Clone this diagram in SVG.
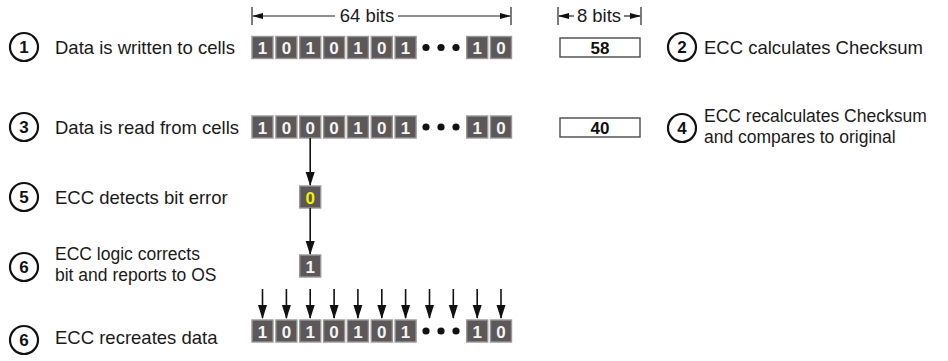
<svg xmlns="http://www.w3.org/2000/svg" width="948" height="361" viewBox="0 0 948 361">
<style>
.lbl{font-family:"Liberation Sans",Arial,sans-serif;font-size:18.5px;fill:#1a1a1a}
.lbl2{font-family:"Liberation Sans",Arial,sans-serif;font-size:17.5px;fill:#1a1a1a}
.num{font-family:"Liberation Sans",Arial,sans-serif;font-size:17px;font-weight:bold;fill:#111;text-anchor:middle}
.cell rect{fill:#5c5758;stroke:#9a9696;stroke-width:1.4}
.cell text{font-family:"Liberation Sans",Arial,sans-serif;font-size:17px;font-weight:bold;fill:#f4f4f4;text-anchor:middle}
.circ{fill:#fff;stroke:#111;stroke-width:2.2}
.box{fill:#fff;stroke:#555;stroke-width:1.5}
.ln{stroke:#111;stroke-width:1.6;fill:none}
.dim{stroke:#222;stroke-width:1.2;fill:none}
.dot{fill:#111}
</style>
<defs>
<marker id="ah" markerWidth="11" markerHeight="8" refX="10" refY="4" orient="auto" markerUnits="userSpaceOnUse">
<path d="M0,1 L11,4 L0,7 Z" fill="#111"/>
</marker>
<marker id="av" markerWidth="14" markerHeight="10" refX="13" refY="5" orient="auto" markerUnits="userSpaceOnUse">
<path d="M0,0.5 L14,5 L0,9.5 Z" fill="#111"/>
</marker>
</defs>

<!-- dimension 64 bits -->
<g id="dim64">
<line class="dim" x1="252" y1="7" x2="252" y2="25"/>
<line class="dim" x1="511" y1="7" x2="511" y2="25"/>
<line class="dim" x1="335" y1="16" x2="253" y2="16" marker-end="url(#ah)"/>
<line class="dim" x1="398" y1="16" x2="510" y2="16" marker-end="url(#ah)"/>
<text class="lbl" x="367" y="22" text-anchor="middle">64 bits</text>
</g>
<!-- dimension 8 bits -->
<g id="dim8">
<line class="dim" x1="558" y1="7" x2="558" y2="25"/>
<line class="dim" x1="641" y1="7" x2="641" y2="25"/>
<line class="dim" x1="574" y1="16" x2="559" y2="16" marker-end="url(#ah)"/>
<line class="dim" x1="624" y1="16" x2="640" y2="16" marker-end="url(#ah)"/>
<text class="lbl" x="599" y="22" text-anchor="middle">8 bits</text>
</g>

<!-- step 1 -->
<g id="step1">
<circle class="circ" cx="24" cy="47" r="14"/>
<text class="num" x="24" y="53">1</text>
<text class="lbl" x="55" y="54">Data is written to cells</text>
</g>
<g id="row1" class="cell" transform="translate(0,36.5)">
<rect x="252" y="0" width="21" height="22"/><text x="262.5" y="17.5">1</text>
<rect x="275.9" y="0" width="21" height="22"/><text x="286.4" y="17.5">0</text>
<rect x="299.7" y="0" width="21" height="22"/><text x="310.2" y="17.5">1</text>
<rect x="323.6" y="0" width="21" height="22"/><text x="334.1" y="17.5">0</text>
<rect x="347.4" y="0" width="21" height="22"/><text x="357.9" y="17.5">1</text>
<rect x="371.3" y="0" width="21" height="22"/><text x="381.8" y="17.5">0</text>
<rect x="395.1" y="0" width="21" height="22"/><text x="405.6" y="17.5">1</text>
<rect x="466.7" y="0" width="21" height="22"/><text x="477.2" y="17.5">1</text>
<rect x="490.5" y="0" width="21" height="22"/><text x="501" y="17.5">0</text>
</g>
<g id="dots1"><circle class="dot" cx="426" cy="47.5" r="3.6"/><circle class="dot" cx="441" cy="47.5" r="3.6"/><circle class="dot" cx="456" cy="47.5" r="3.6"/></g>

<!-- step 2 -->
<g id="checksum1">
<rect class="box" x="560" y="38" width="80" height="19"/>
<text class="num" x="600" y="54">58</text>
</g>
<g id="step2">
<circle class="circ" cx="682" cy="47" r="14"/>
<text class="num" x="682" y="53">2</text>
<text class="lbl" x="704" y="54">ECC calculates Checksum</text>
</g>

<!-- step 3 -->
<g id="step3">
<circle class="circ" cx="24" cy="127" r="14"/>
<text class="num" x="24" y="133">3</text>
<text class="lbl" x="55" y="134">Data is read from cells</text>
</g>
<g id="row3" class="cell" transform="translate(0,116)">
<rect x="252" y="0" width="21" height="22"/><text x="262.5" y="17.5">1</text>
<rect x="275.9" y="0" width="21" height="22"/><text x="286.4" y="17.5">0</text>
<rect x="299.7" y="0" width="21" height="22"/><text x="310.2" y="17.5">0</text>
<rect x="323.6" y="0" width="21" height="22"/><text x="334.1" y="17.5">0</text>
<rect x="347.4" y="0" width="21" height="22"/><text x="357.9" y="17.5">1</text>
<rect x="371.3" y="0" width="21" height="22"/><text x="381.8" y="17.5">0</text>
<rect x="395.1" y="0" width="21" height="22"/><text x="405.6" y="17.5">1</text>
<rect x="466.7" y="0" width="21" height="22"/><text x="477.2" y="17.5">1</text>
<rect x="490.5" y="0" width="21" height="22"/><text x="501" y="17.5">0</text>
</g>
<g id="dots3"><circle class="dot" cx="426" cy="127" r="3.6"/><circle class="dot" cx="441" cy="127" r="3.6"/><circle class="dot" cx="456" cy="127" r="3.6"/></g>

<!-- step 4 -->
<g id="checksum2">
<rect class="box" x="560" y="118" width="80" height="19"/>
<text class="num" x="600" y="134">40</text>
</g>
<g id="step4">
<circle class="circ" cx="682" cy="128" r="14"/>
<text class="num" x="682" y="134">4</text>
<text class="lbl2" x="704" y="122">ECC recalculates Checksum</text>
<text class="lbl2" x="704" y="142.5">and compares to original</text>
</g>

<!-- step 5 -->
<g id="step5">
<circle class="circ" cx="24" cy="197" r="14"/>
<text class="num" x="24" y="203">5</text>
<text class="lbl" x="55" y="204">ECC detects bit error</text>
</g>
<g id="errbit" class="cell">
<rect x="299.7" y="186" width="21" height="22"/>
<text x="310.2" y="203.5" style="fill:#f2f200">0</text>
</g>

<!-- step 6a -->
<g id="step6a">
<circle class="circ" cx="24" cy="267" r="14"/>
<text class="num" x="24" y="273">6</text>
<text class="lbl2" x="55" y="260">ECC logic corrects</text>
<text class="lbl2" x="55" y="280.5">bit and reports to OS</text>
</g>
<g id="fixbit" class="cell">
<rect x="299.7" y="255" width="21" height="22"/>
<text x="310.2" y="272.5">1</text>
</g>

<!-- step 6b -->
<g id="step6b">
<circle class="circ" cx="24" cy="340" r="14"/>
<text class="num" x="24" y="346">6</text>
<text class="lbl" x="55" y="344">ECC recreates data</text>
</g>
<g id="row6" class="cell" transform="translate(0,320)">
<rect x="252" y="0" width="21" height="22"/><text x="262.5" y="17.5">1</text>
<rect x="275.9" y="0" width="21" height="22"/><text x="286.4" y="17.5">0</text>
<rect x="299.7" y="0" width="21" height="22"/><text x="310.2" y="17.5">1</text>
<rect x="323.6" y="0" width="21" height="22"/><text x="334.1" y="17.5">0</text>
<rect x="347.4" y="0" width="21" height="22"/><text x="357.9" y="17.5">1</text>
<rect x="371.3" y="0" width="21" height="22"/><text x="381.8" y="17.5">0</text>
<rect x="395.1" y="0" width="21" height="22"/><text x="405.6" y="17.5">1</text>
<rect x="466.7" y="0" width="21" height="22"/><text x="477.2" y="17.5">1</text>
<rect x="490.5" y="0" width="21" height="22"/><text x="501" y="17.5">0</text>
</g>
<g id="dots6"><circle class="dot" cx="426" cy="331" r="3.6"/><circle class="dot" cx="441" cy="331" r="3.6"/><circle class="dot" cx="456" cy="331" r="3.6"/></g>

<!-- connectors -->
<g id="connectors">
<line class="ln" x1="310.2" y1="138" x2="310.2" y2="185" marker-end="url(#av)"/>
<line class="ln" x1="310.2" y1="208" x2="310.2" y2="254" marker-end="url(#av)"/>
<line class="ln" x1="262.5" y1="289" x2="262.5" y2="318" marker-end="url(#av)"/>
<line class="ln" x1="286.4" y1="289" x2="286.4" y2="318" marker-end="url(#av)"/>
<line class="ln" x1="310.2" y1="289" x2="310.2" y2="318" marker-end="url(#av)"/>
<line class="ln" x1="334.1" y1="289" x2="334.1" y2="318" marker-end="url(#av)"/>
<line class="ln" x1="357.9" y1="289" x2="357.9" y2="318" marker-end="url(#av)"/>
<line class="ln" x1="381.8" y1="289" x2="381.8" y2="318" marker-end="url(#av)"/>
<line class="ln" x1="405.6" y1="289" x2="405.6" y2="318" marker-end="url(#av)"/>
<line class="ln" x1="429.5" y1="289" x2="429.5" y2="318" marker-end="url(#av)"/>
<line class="ln" x1="453.3" y1="289" x2="453.3" y2="318" marker-end="url(#av)"/>
<line class="ln" x1="477.2" y1="289" x2="477.2" y2="318" marker-end="url(#av)"/>
<line class="ln" x1="501" y1="289" x2="501" y2="318" marker-end="url(#av)"/>
</g>
</svg>
